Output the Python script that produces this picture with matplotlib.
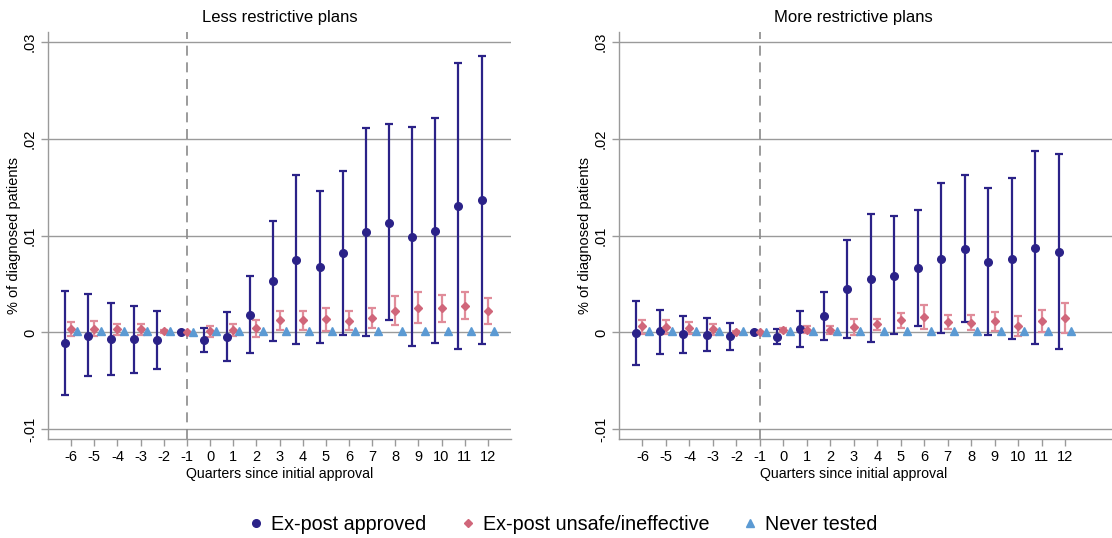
import numpy as np
import matplotlib
matplotlib.use("Agg")
import matplotlib.pyplot as plt
from matplotlib.lines import Line2D

plt.rcParams["font.family"] = ["Liberation Sans", "DejaVu Sans"]

quarters = np.arange(-6, 13)

# Less restrictive plans
less_app = [-0.00113, -0.00034, -0.00072, -0.00072, -0.00079, 0.0, -0.00079, -0.00045, 0.0018,
            0.00527, 0.0075, 0.0067, 0.00818, 0.01032, 0.01132, 0.00988, 0.0105, 0.01302, 0.01364]
less_app_hi = [0.00424, 0.00393, 0.00304, 0.0027, 0.00216, 0.0, 0.00048, 0.0021, 0.0058,
               0.01148, 0.01621, 0.01457, 0.01667, 0.0211, 0.0215, 0.02122, 0.02212, 0.02778, 0.02853]
less_app_lo = [-0.00645, -0.0045, -0.0044, -0.00414, -0.00373, 0.0, -0.002, -0.0029, -0.0021,
               -0.00092, -0.00116, -0.00113, -0.00027, -0.00038, 0.00123, -0.00144, -0.0011, -0.00168, -0.00116]
less_uns = [0.00034, 0.00038, 0.00031, 0.00031, 0.00014, 0.0, 0.00014, 0.00027, 0.00045,
            0.00123, 0.00123, 0.00134, 0.0012, 0.0015, 0.00226, 0.0025, 0.00247, 0.00274, 0.00223]
less_uns_hi = [0.0011, 0.00113, 0.00086, 0.00086, 0.00027, 0.0, 0.00065, 0.00082, 0.00127,
               0.00216, 0.00219, 0.00253, 0.00219, 0.0025, 0.00377, 0.00414, 0.0039, 0.00421, 0.00356]
less_uns_lo = [-0.00038, -0.00034, -0.00027, -0.00024, -0.00003, 0.0, -0.0005, -0.00038, -0.00045,
               0.00027, 0.00027, 0.0001, 0.00024, 0.00048, 0.00072, 0.00092, 0.00103, 0.00134, 0.00082]
less_never = [0.0001, 0.0001, 0.0001, 0.0001, 0.0001, 0.0, 0.0001, 0.0001, 0.0001,
              0.0001, 0.0001, 0.0001, 0.00012, 0.0001, 0.0001, 0.0001, 0.0001, 0.0001, 0.0001]

# More restrictive plans
more_app = [-0.00007, 0.0001, -0.0002, -0.00027, -0.00038, 0.0, -0.00045, 0.00034, 0.00167,
            0.00444, 0.00553, 0.00587, 0.00666, 0.00761, 0.00857, 0.00731, 0.00761, 0.00874, 0.00833]
more_app_hi = [0.00328, 0.00232, 0.00174, 0.00147, 0.001, 0.0, 0.0003, 0.00225, 0.00414,
               0.00952, 0.01217, 0.01203, 0.01265, 0.01539, 0.01622, 0.01495, 0.01598, 0.01876, 0.01838]
more_app_lo = [-0.00338, -0.00225, -0.00215, -0.00195, -0.00178, 0.0, -0.0012, -0.00154, -0.00075,
               -0.00061, -0.001, -0.0002, 0.00068, -0.00007, 0.00106, -0.00027, -0.00065, -0.00123, -0.00167]
more_uns = [0.00061, 0.00058, 0.00041, 0.00031, 0.00007, 0.0, 0.00024, 0.00027, 0.00024,
            0.00058, 0.00089, 0.00123, 0.00157, 0.00106, 0.00102, 0.00116, 0.00068, 0.00116, 0.00147]
more_uns_hi = [0.00133, 0.00127, 0.00106, 0.00082, 0.00012, 0.0, 0.00045, 0.00065, 0.00068,
               0.0014, 0.00143, 0.00198, 0.00283, 0.00184, 0.00181, 0.00215, 0.00171, 0.00229, 0.003]
more_uns_lo = [-0.00014, -0.00014, -0.0002, -0.00024, 0.00002, 0.0, 0.0, -0.0001, -0.00014,
               -0.00027, 0.00027, 0.00044, 0.00034, 0.00031, 0.00024, 0.0001, -0.00038, 0.0, -0.00003]
more_never = [0.0001, 0.0001, 0.0001, 0.0001, 0.0001, 0.0, 0.0001, 0.0001, 0.0001,
              0.0001, 0.0001, 0.0001, 0.0001, 0.0001, 0.0001, 0.0001, 0.0001, 0.0001, 0.0001]

panels = [
    ("Less restrictive plans", less_app, less_app_lo, less_app_hi,
     less_uns, less_uns_lo, less_uns_hi, less_never, 13),
    ("More restrictive plans", more_app, more_app_lo, more_app_hi,
     more_uns, more_uns_lo, more_uns_hi, more_never, 14),
]

NAVY, PINK, PINK_CI, SKY = "#2b2288", "#d0667a", "#e08c9a", "#5b9ad3"
GRID = "#9a9a9a"

fig = plt.figure(figsize=(11.12, 5.38), dpi=100)
axes = [fig.add_axes([48 / 1112, 99 / 538, 463 / 1112, 407 / 538]),
        fig.add_axes([619 / 1112, 99 / 538, 493 / 1112, 407 / 538])]


def draw_ci(ax, x, y, lo, hi, color, ecolor, marker, ms):
    y, lo, hi = map(np.asarray, (y, lo, hi))
    err = np.vstack([y - lo, hi - y])
    ax.errorbar(x, y, yerr=err, fmt="none", ecolor=ecolor, elinewidth=1.6,
                capsize=3.2, capthick=1.6, zorder=3)
    ax.plot(x, y, marker, color=color, ms=ms, lw=0, zorder=4)


for ax, (title, app, app_lo, app_hi, uns, uns_lo, uns_hi, never, xmax) in zip(axes, panels):
    ax.set_xlim(-7, xmax)
    ax.set_ylim(-0.011, 0.031)
    for yv in [-0.01, 0, 0.01, 0.02, 0.03]:
        ax.axhline(yv, color=GRID, lw=1.0, zorder=1)
    ax.axvline(-1, color="#8a8a8a", lw=1.2, ls=(0, (6, 4)), zorder=1)

    draw_ci(ax, quarters - 0.27, app, app_lo, app_hi, NAVY, NAVY, "o", 5.5)
    draw_ci(ax, quarters, uns, uns_lo, uns_hi, PINK, PINK_CI, "D", 4.5)
    ax.plot(quarters + 0.27, never, "^", color=SKY, ms=6, lw=0, zorder=5)

    ax.set_xticks(quarters)
    ax.set_xticklabels([str(q) for q in quarters], fontsize=10.5)
    ax.set_yticks([-0.01, 0, 0.01, 0.02, 0.03])
    ax.set_yticklabels(["-.01", "0", ".01", ".02", ".03"], rotation=90, va="center",
                       fontsize=10.5)
    ax.tick_params(axis="both", color=GRID, length=5, width=1, pad=3)
    for side in ["top", "right"]:
        ax.spines[side].set_visible(False)
    for side in ["left", "bottom"]:
        ax.spines[side].set_color(GRID)
        ax.spines[side].set_linewidth(1.0)

    # titles and x labels sit over the middle of the -7..13 range
    xc = (3 + 7) / (xmax + 7)
    ax.set_title(title, fontsize=12, x=xc, pad=7)
    ax.set_xlabel("Quarters since initial approval", fontsize=10.2)
    ax.xaxis.set_label_coords(xc, -0.07)
    ax.set_ylabel("% of diagnosed patients", fontsize=10.5, labelpad=1)

handles = [
    Line2D([], [], marker="o", color=NAVY, lw=0, ms=5.5),
    Line2D([], [], marker="D", color=PINK, lw=0, ms=4.5),
    Line2D([], [], marker="^", color=SKY, lw=0, ms=6),
]
fig.legend(handles, ["Ex-post approved", "Ex-post unsafe/ineffective", "Never tested"],
           loc="center", bbox_to_anchor=(562 / 1112, 1 - 524 / 538), ncol=3, frameon=False,
           fontsize=14.2, handletextpad=0.25, columnspacing=1.6, handlelength=1.0)

fig.savefig("out.png", dpi=100)
